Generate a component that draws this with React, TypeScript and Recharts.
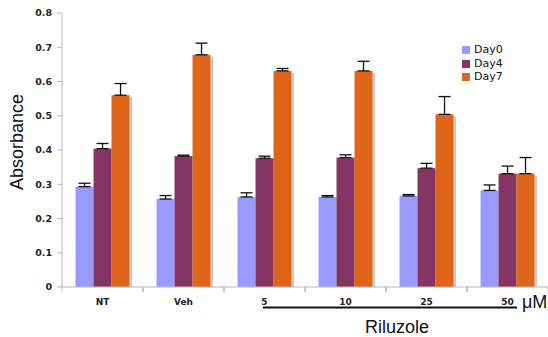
import { BarChart, Bar, XAxis, YAxis, Legend, ErrorBar } from 'recharts'

const categories = ['NT', 'Veh', '5', '10', '25', '50']
const day0 = [0.293, 0.257, 0.263, 0.263, 0.266, 0.282]
const day4 = [0.404, 0.382, 0.376, 0.378, 0.347, 0.331]
const day7 = [0.56, 0.678, 0.631, 0.631, 0.504, 0.331]
const day0Err = [0.01, 0.01, 0.012, 0.004, 0.004, 0.016]
const day4Err = [0.015, 0.003, 0.006, 0.008, 0.014, 0.022]
const day7Err = [0.034, 0.034, 0.007, 0.028, 0.052, 0.047]
const yTicks = [0, 0.1, 0.2, 0.3, 0.4, 0.5, 0.6, 0.7, 0.8]

const W = 548
const H = 337
const AXIS_W = 62
const HALF_BAND = (W - AXIS_W) / categories.length / 2
const AXIS_COLOR = '#b8b8b8'
const TICK_FONT = 'DejaVu Sans, Verdana, sans-serif'
const LABEL_FONT = 'Liberation Sans, Arial, sans-serif'

// upward-only error bars: [below, above]
const data = categories.map((name, i) => ({
  name,
  day0: day0[i],
  day4: day4[i],
  day7: day7[i],
  day0Err: [0, day0Err[i]],
  day4Err: [0, day4Err[i]],
  day7Err: [0, day7Err[i]],
}))

// bar with a soft grey drop shadow on its right edge
function ShadowBar(props: any) {
  const { x, y, width, height, fill } = props
  if (!height || height <= 0) return null
  return (
    <g>
      <rect x={x + width} y={y + 2} width={2.5} height={height - 2} fill="#c9c9c9" />
      <rect x={x} y={y} width={width} height={height} fill={fill} />
    </g>
  )
}

// category label plus boundary tick marks between groups
function CategoryTick(props: any) {
  const { x, y, payload } = props
  return (
    <g>
      <line x1={x - HALF_BAND} x2={x - HALF_BAND} y1={y} y2={y + 5} stroke={AXIS_COLOR} />
      <line x1={x + HALF_BAND} x2={x + HALF_BAND} y1={y} y2={y + 5} stroke={AXIS_COLOR} />
      <text
        x={x}
        y={y + 17.5}
        textAnchor="middle"
        fontSize={9}
        fontWeight="bold"
        fill="#222"
        fontFamily={TICK_FONT}
      >
        {payload.value}
      </text>
    </g>
  )
}

export default function App() {
  return (
    <div style={{ position: 'absolute', left: 0, top: 0, width: W, height: H, background: '#fff' }}>
      <BarChart
        width={W}
        height={H}
        data={data}
        margin={{ top: 13, right: 0, bottom: 0, left: 0 }}
        barCategoryGap="16.7%"
        barGap={0}
      >
        <XAxis
          dataKey="name"
          height={50}
          axisLine={{ stroke: AXIS_COLOR }}
          tickLine={false}
          tickSize={0}
          tickMargin={0}
          tick={<CategoryTick />}
          interval={0}
        />
        <YAxis
          width={AXIS_W}
          domain={[0, 0.8]}
          ticks={yTicks}
          tickFormatter={(v: number) => (v === 0 ? '0' : v.toFixed(1))}
          axisLine={{ stroke: AXIS_COLOR }}
          tickLine={{ stroke: AXIS_COLOR }}
          tickSize={5}
          tickMargin={5}
          tick={{ fill: '#222', fontSize: 9.5, fontWeight: 'bold', fontFamily: TICK_FONT }}
        />
        <Legend
          layout="vertical"
          verticalAlign="middle"
          align="center"
          iconType="square"
          iconSize={8}
          formatter={(value: string) => <span style={{ color: '#111' }}>{value}</span>}
          wrapperStyle={{
            position: 'absolute',
            top: 43,
            left: 462,
            width: 70,
            fontSize: 11,
            lineHeight: '13.5px',
            fontFamily: TICK_FONT,
          }}
        />
        <Bar dataKey="day0" name="Day0" fill="#9999ff" shape={<ShadowBar />} isAnimationActive={false}>
          <ErrorBar dataKey="day0Err" direction="y" width={6} stroke="#111" strokeWidth={1.3} />
        </Bar>
        <Bar dataKey="day4" name="Day4" fill="#853564" shape={<ShadowBar />} isAnimationActive={false}>
          <ErrorBar dataKey="day4Err" direction="y" width={6} stroke="#111" strokeWidth={1.3} />
        </Bar>
        <Bar dataKey="day7" name="Day7" fill="#e06417" shape={<ShadowBar />} isAnimationActive={false}>
          <ErrorBar dataKey="day7Err" direction="y" width={6} stroke="#111" strokeWidth={1.3} />
        </Bar>
      </BarChart>
      <svg
        width={W}
        height={H}
        style={{ position: 'absolute', left: 0, top: 0, pointerEvents: 'none' }}
      >
        <text
          x={23}
          y={142}
          transform="rotate(-90 23 142)"
          textAnchor="middle"
          fontSize={18}
          fontFamily={LABEL_FONT}
          fill="#111"
        >
          Absorbance
        </text>
        <line x1={263} x2={517} y1={307.5} y2={307.5} stroke="#111" strokeWidth={2} />
        <text x={522} y={308} fontSize={18} fontFamily={LABEL_FONT} fill="#111">
          μM
        </text>
        <text x={397} y={333} textAnchor="middle" fontSize={18} fontFamily={LABEL_FONT} fill="#111">
          Riluzole
        </text>
      </svg>
    </div>
  )
}
